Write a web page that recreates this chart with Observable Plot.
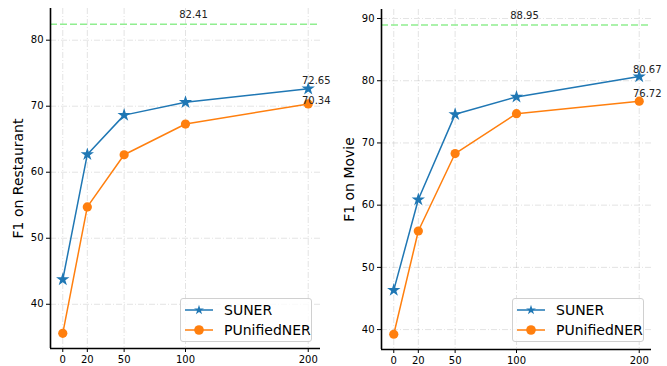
<!DOCTYPE html>
<html><head><meta charset="utf-8">
<script src="https://cdn.jsdelivr.net/npm/d3@7"></script>
<script src="https://cdn.jsdelivr.net/npm/@observablehq/plot@0.6"></script>
<style>
body{margin:0;background:#fff;font-family:"DejaVu Sans",sans-serif}
#wrap{position:relative;width:667px;height:366px;display:flex}
#wrap svg{overflow:visible}
.legend{position:absolute;background:rgba(255,255,255,0.8);border:1px solid #d0d0d0;border-radius:3px;box-sizing:border-box;font-family:"DejaVu Sans",sans-serif;font-size:14px;color:#000}
.legend .row{display:flex;align-items:center;height:20px}
.legend svg{overflow:visible;flex:none}
</style></head><body><div id="wrap"></div>
<script>
const shots = [0, 20, 50, 100, 200];
const xTicks = [0, 20, 50, 100, 200];
const series = ["SUNER", "PUnifiedNER"];
const colors = ["#1f77b4", "#ff7f0e"];
const restSUNER = [43.75, 62.7, 68.65, 70.6, 72.65];
const restPU = [35.6, 54.75, 62.65, 67.3, 70.34];
const movieSUNER = [46.35, 60.9, 74.6, 77.4, 80.67];
const moviePU = [39.25, 55.85, 68.3, 74.7, 76.72];
const restFull = [82.41];
const movieFull = [88.95];
const restYTicks = [40, 50, 60, 70, 80];
const movieYTicks = [40, 50, 60, 70, 80, 90];
const yLabels = ["F1 on Restaurant", "F1 on Movie"];

function rows(a, b) {
  const out = [];
  shots.forEach((s, i) => out.push({x: s, y: a[i], s: series[0]}));
  shots.forEach((s, i) => out.push({x: s, y: b[i], s: series[1]}));
  return out;
}

function panel({a, b, full, yTicks, yDomain, label, width, ml, mr, mt, mb, endDy}) {
  const data = rows(a, b);
  const ends = [
    {x: shots[shots.length-1], y: a[a.length-1], s: series[0]},
    {x: shots[shots.length-1], y: b[b.length-1], s: series[1]}
  ];
  const xDomain = [-10, 210];
  const grid = {stroke: "#b0b0b0", strokeOpacity: 0.35, strokeWidth: 1, strokeDasharray: "6,2,1,2"};
  return Plot.plot({
    width, height: 366,
    marginLeft: ml, marginRight: mr, marginTop: mt, marginBottom: mb,
    style: {fontFamily: "DejaVu Sans, sans-serif", color: "#000", background: "transparent", overflow: "visible"},
    x: {domain: xDomain},
    y: {domain: yDomain},
    marks: [
      Plot.gridY(yTicks, grid),
      Plot.gridX(xTicks, grid),
      Plot.ruleY(full, {stroke: "#90ee90", strokeWidth: 1.5, strokeDasharray: "7,3"}),
      Plot.text(full, {y: d => d, text: d => d.toFixed(2), frameAnchor: "middle", dx: 8, dy: -9, fontSize: 10, fill: "#222"}),
      Plot.line(data, {x: "x", y: "y", z: "s", stroke: d => d.s === series[0] ? colors[0] : colors[1], strokeWidth: 1.5}),
      Plot.dot(data.filter(d => d.s === series[1]), {x: "x", y: "y", r: 4.6, fill: colors[1], stroke: null, symbol: "circle"}),
      Plot.dot(data.filter(d => d.s === series[0]), {x: "x", y: "y", r: 4.2, fill: colors[0], stroke: null, symbol: "star"}),
      Plot.text(ends.filter(e => e.s === series[0]), {x: "x", y: "y", text: d => d.y.toFixed(2), dx: 8, dy: endDy[0], fontSize: 10, fill: "#222"}),
      Plot.text(ends.filter(e => e.s === series[1]), {x: "x", y: "y", text: d => d.y.toFixed(2), dx: 8, dy: endDy[1], fontSize: 10, fill: "#222"}),
      Plot.axisY(yTicks, {tickSize: 4, tickPadding: 3, fontSize: 10, label: null, stroke: "#000"}),
      Plot.axisX(xTicks, {tickSize: 4, tickPadding: 3, fontSize: 10, label: null, stroke: "#000"}),
      Plot.ruleX([xDomain[0]], {stroke: "#000", strokeWidth: 1.6}),
      Plot.ruleY([yDomain[0]], {stroke: "#000", strokeWidth: 1.6}),
      Plot.text([label], {frameAnchor: "left", rotate: -90, dx: -32, fontSize: 14, textAnchor: "middle", lineAnchor: "middle", fill: "#000"})
    ]
  });
}

const wrap = document.getElementById("wrap");
wrap.appendChild(panel({a: restSUNER, b: restPU, full: restFull, yTicks: restYTicks, yDomain: [33.3, 84.8], label: yLabels[0], width: 333, ml: 50, mr: 13, mt: 8, mb: 18, endDy: [-8, -3]}));
wrap.appendChild(panel({a: movieSUNER, b: moviePU, full: movieFull, yTicks: movieYTicks, yDomain: [36.8, 91.45], label: yLabels[1], width: 334, ml: 48, mr: 16, mt: 9, mb: 17, endDy: [-7, -7]}));

function legend(left, top) {
  const div = document.createElement("div");
  div.className = "legend";
  Object.assign(div.style, {left: left + "px", top: top + "px", width: "132px", height: "44px", padding: "1px 0 0 4px"});
  const star = d3.symbol(d3.symbolStar, 30)();
  series.forEach((s, i) => {
    const row = document.createElement("div");
    row.className = "row";
    const marker = i === 0
      ? `<path d="${star}" transform="translate(14,10)" fill="${colors[0]}"/>`
      : `<circle cx="14" cy="10" r="4.8" fill="${colors[1]}"/>`;
    row.innerHTML = `<svg width="39" height="20"><line x1="0" x2="28" y1="10" y2="10" stroke="${colors[i]}" stroke-width="1.5"/>${marker}</svg><span>${s}</span>`;
    div.appendChild(row);
  });
  wrap.appendChild(div);
}
legend(180, 298);
legend(512, 298);
</script></body></html>
